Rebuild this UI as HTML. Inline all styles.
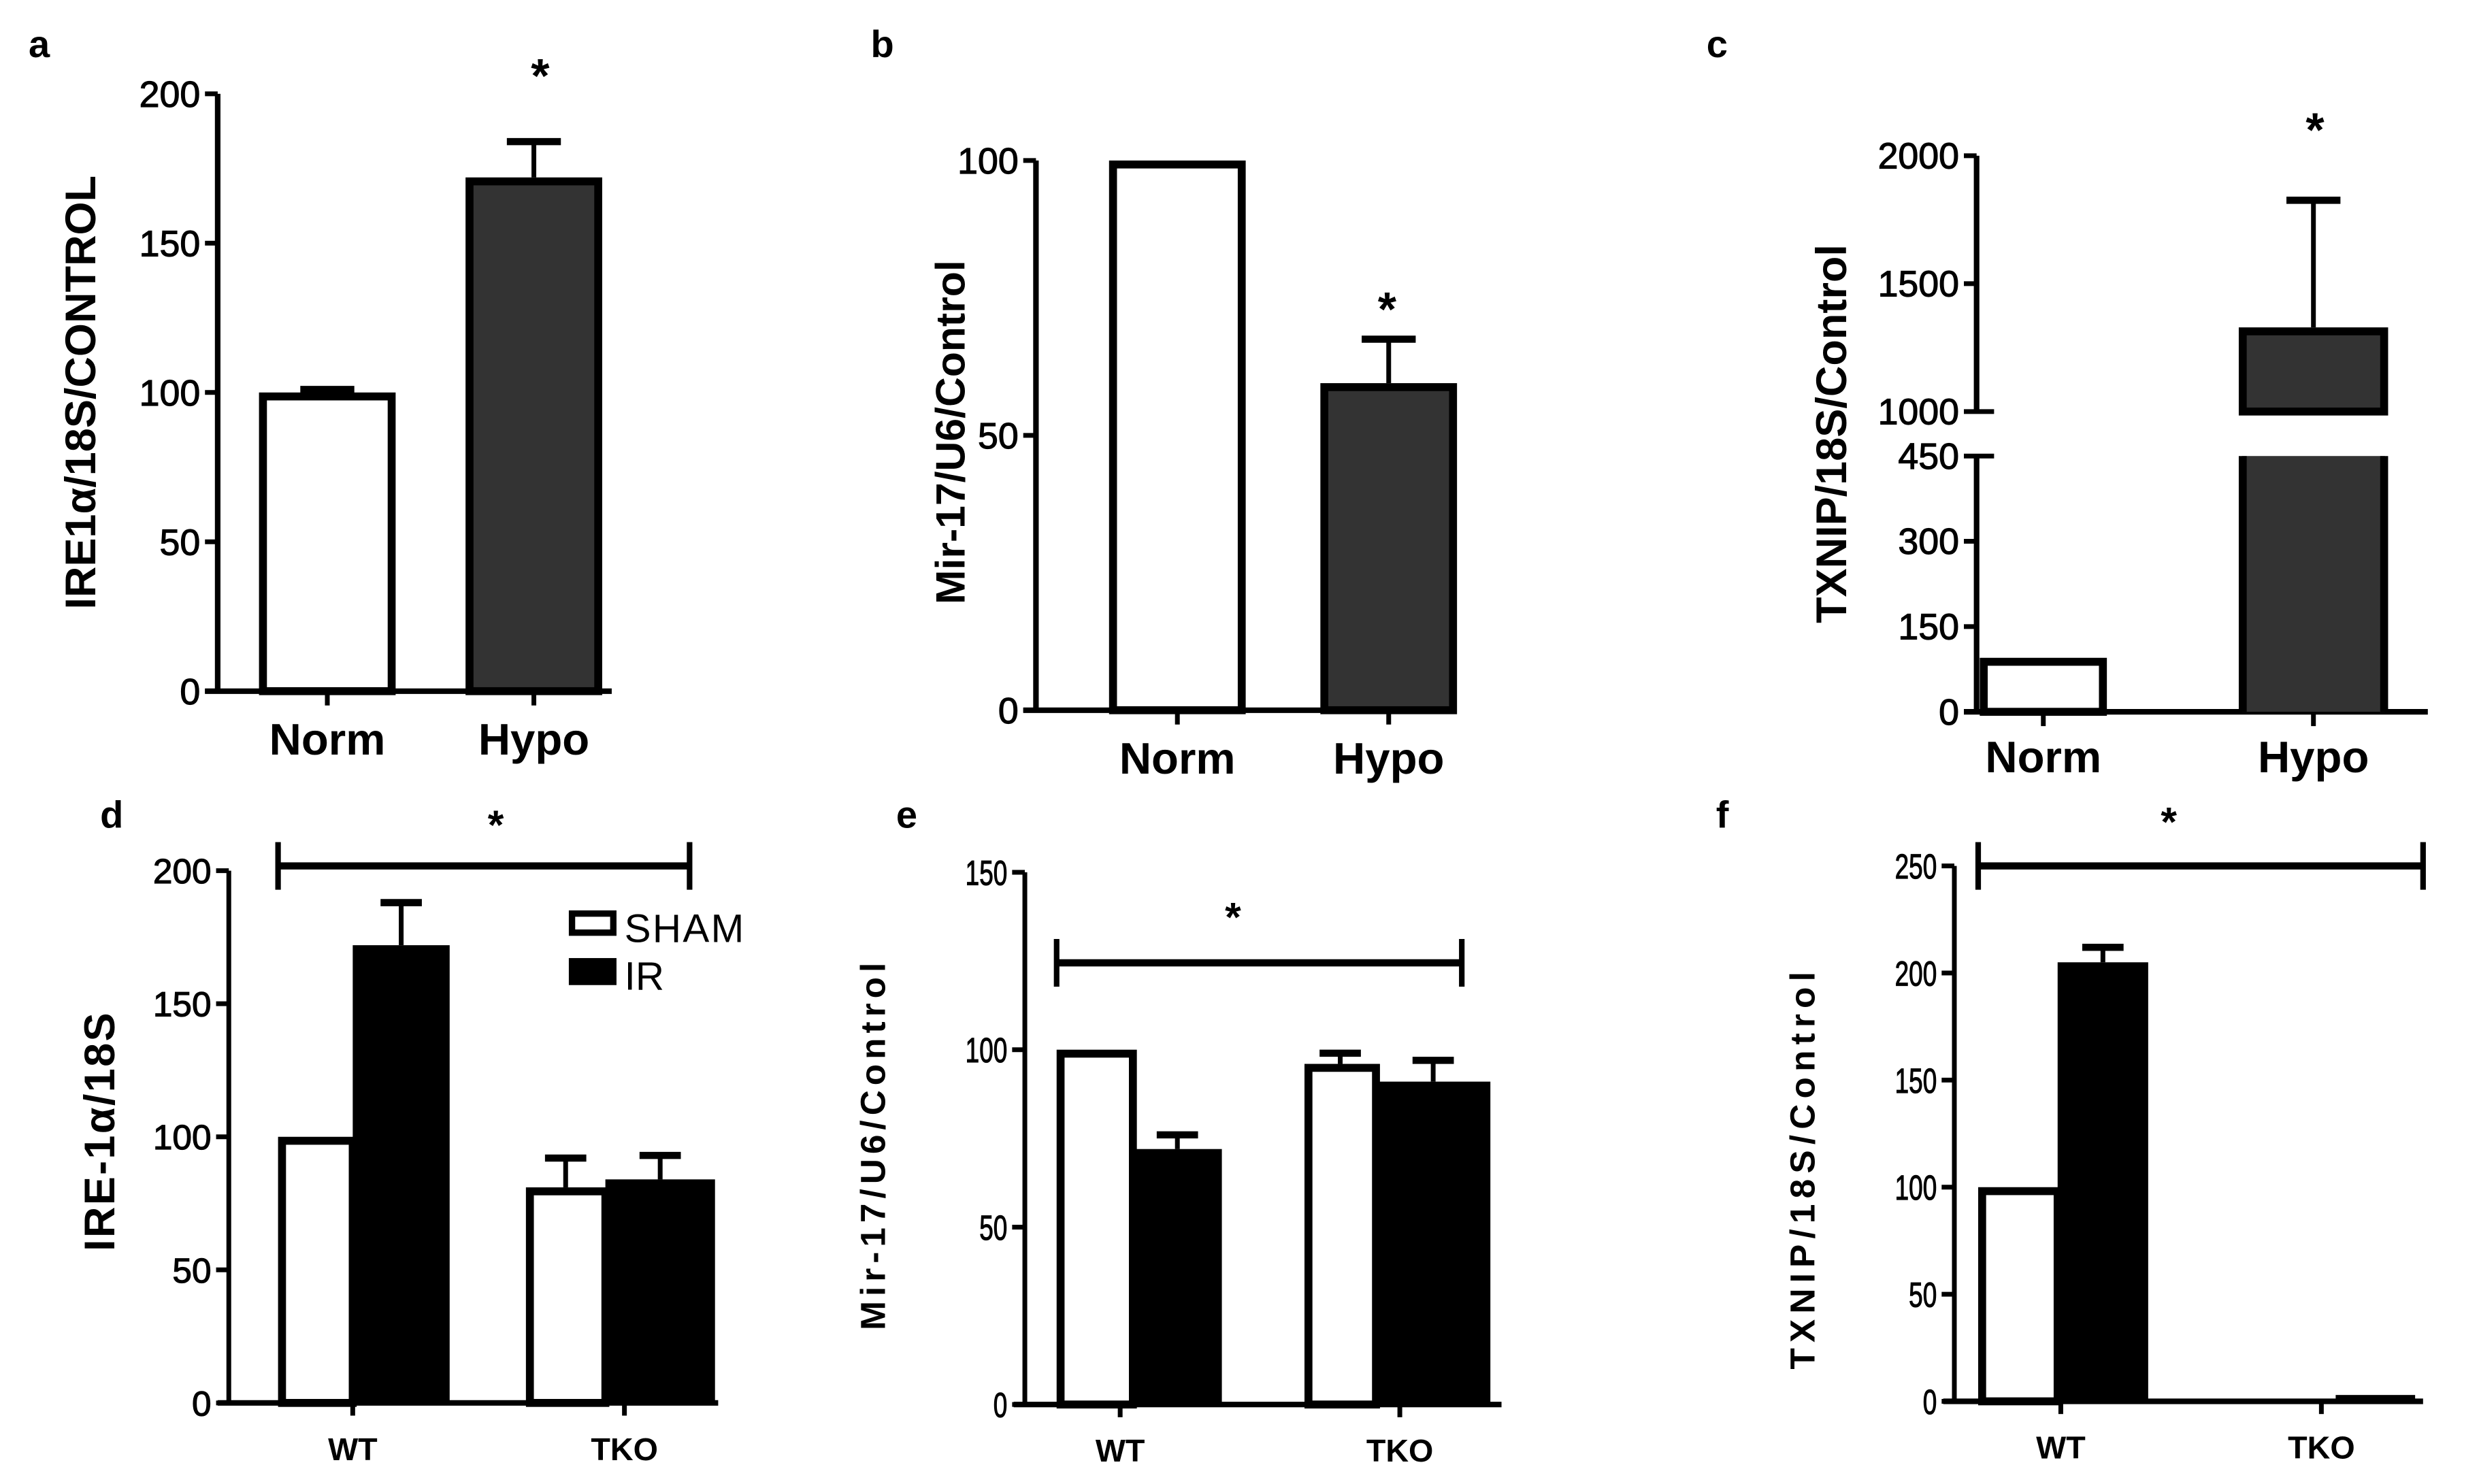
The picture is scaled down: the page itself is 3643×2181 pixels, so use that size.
<!DOCTYPE html>
<html><head><meta charset="utf-8"><style>
html,body{margin:0;padding:0;background:#fff;}
svg{display:block;font-family:"Liberation Sans",Arial,sans-serif;}
</style></head><body>
<svg id="fig" width="3643" height="2181" viewBox="0 0 1560.2 934" xmlns="http://www.w3.org/2000/svg"></svg>
<script>
// ---- data ----
const aCats = ["Norm","Hypo"];
const aVals = [100, 172];
const aErr  = [101, 184];
const aTicks = [0,50,100,150,200];

const bCats = ["Norm","Hypo"];
const bVals = [100, 59.5];
const bErr  = [100, 67.5];
const bTicks = [0,50,100];

const cCats = ["Norm","Hypo"];
const cVals = [95, 1329];
const cErr  = [95, 1826];
const cTicks = [0,150,300,450,1000,1500,2000];

const groups = ["WT","TKO"];
const dSham = [100, 81];  const dShamErr = [100, 92];
const dIR   = [172, 84];  const dIRErr   = [188, 93];
const dTicks = [0,50,100,150,200];

const eSham = [100, 96];  const eShamErr = [100, 99];
const eIR   = [72, 91];   const eIRErr   = [76, 97];
const eTicks = [0,50,100,150];

const fSham = [100, 0];   const fShamErr = [100, 0];
const fIR   = [205, 1];   const fIRErr   = [212, 1];
const fTicks = [0,50,100,150,200,250];

const NS="http://www.w3.org/2000/svg";
const svg=document.getElementById('fig');
function el(tag,attrs,parent){const e=document.createElementNS(NS,tag);for(const k in attrs)e.setAttribute(k,attrs[k]);(parent||svg).appendChild(e);return e;}
function txt(s,attrs,parent){const t=el('text',attrs,parent);t.textContent=s;return t;}
function lin(v0,v1,p0,p1){return v=>p0+(v-v0)*(p1-p0)/(v1-v0);}

function axisY(g,x,y,ticks,fs,cond){
  ticks.forEach(t=>{
    const yy=y(t);
    const tk=el('line',{x1:x-8,x2:x,y1:yy,y2:yy,stroke:'#000','stroke-width':3},g);
    
    
    const lb=txt(String(t),{x:x-11,y:yy+fs*0.36,'font-size':fs,'text-anchor':'end',stroke:'#000','stroke-width':0.5},g);
    if(cond){lb.setAttribute('transform',`translate(${x-11},0) scale(0.72,1) translate(${-(x-11)},0)`);}
    
    
  });
}
function ytitle(g,s,x,cy,fs,ls){
  const t=txt(s,{x:x,y:cy,'font-size':fs,'font-weight':'bold','text-anchor':'middle',transform:`rotate(-90 ${x} ${cy})`,'letter-spacing':ls||0},g);
  
  
}
function letter(s,x,y){const t=txt(s,{x:x,y:y,'font-size':24,'font-weight':'bold'});
  
  }
function star(x,y,fs){const t=txt('*',{x:x,y:y,'font-size':fs||30,'font-weight':'bold','text-anchor':'middle'});
  
  }
function errbar(g,xc,ytop,yerr,hw,sw){
  if(yerr>=ytop-0.5)return;
  const l=el('line',{x1:xc,x2:xc,y1:ytop,y2:yerr,stroke:'#000','stroke-width':sw},g);
  
  
  const c=el('line',{x1:xc-hw,x2:xc+hw,y1:yerr,y2:yerr,stroke:'#000','stroke-width':sw+1.5},g);
  
  
}

// ---- top panels (a, b) ----
function topPanel(name,cats,vals,errs,ticks,cfg){
  const g=el('g',{});
  
  
  const y=lin(0,ticks[ticks.length-1],cfg.y0,cfg.yTop);
  const ax=el('line',{x1:cfg.ax,x2:cfg.ax,y1:cfg.yTop,y2:cfg.y0+1.5,stroke:'#000','stroke-width':3.5},g);
  
  
  const xa=el('line',{x1:cfg.ax-8,x2:cfg.xEnd,y1:cfg.y0,y2:cfg.y0,stroke:'#000','stroke-width':3.5},g);
  
  
  axisY(g,cfg.ax,y,ticks,23,false);
  cats.forEach((c,i)=>{
    const x0=cfg.bx[i],w=cfg.bw,yt=y(vals[i]);
    errbar(g,x0+w/2,yt,y(errs[i]),17,3);
    const r=el('rect',{x:x0+2.5,y:yt+2.5,width:w-5,height:cfg.y0-yt-2.5,fill:i?'#333':'#fff',stroke:'#000','stroke-width':5},g);
    
    
    el('line',{x1:x0+w/2,x2:x0+w/2,y1:cfg.y0,y2:cfg.y0+9,stroke:'#000','stroke-width':3},g);
    const t=txt(c,{x:x0+w/2,y:cfg.y0+40,'font-size':28,'font-weight':'bold','text-anchor':'middle'},g);
    
    
  });
  ytitle(g,cfg.title,cfg.tx,cfg.ty,cfg.tfs);
}
topPanel('a',aCats,aVals,aErr,aTicks,{ax:137,y0:435,yTop:59,xEnd:385,bx:[163,293],bw:86,title:'IRE1\u03B1/18S/CONTROL',tx:60,ty:247,tfs:27});
letter('a',18,36);star(340,58,30);
topPanel('b',bCats,bVals,bErr,bTicks,{ax:652,y0:447,yTop:101,xEnd:915,bx:[698,831],bw:86,title:'Mir-17/U6/Control',tx:607,ty:272,tfs:26});
letter('b',548,36);star(873,205,30);

// ---- panel c (broken axis) ----
(function(){
  const g=el('g',{});
  
  
  const ax=1244,y0=448;
  const yLow=lin(0,450,y0,287), yHigh=lin(1000,2000,259,98);
  const y=v=>v<=450?yLow(v):yHigh(v);
  const a1=el('line',{x1:ax,x2:ax,y1:287,y2:y0+1.5,stroke:'#000','stroke-width':3.5},g);
  
  
  const a2=el('line',{x1:ax,x2:ax,y1:98,y2:259,stroke:'#000','stroke-width':3.5},g);
  
  
  const xa=el('line',{x1:ax-8,x2:1528,y1:y0,y2:y0,stroke:'#000','stroke-width':3.5},g);
  
  
  cTicks.forEach(t=>{
    const yy=y(t);
    el('line',{x1:ax-8,x2:ax+(t===1000||t===450?11:0),y1:yy,y2:yy,stroke:'#000','stroke-width':3},g);
    const lb=txt(String(t),{x:ax-11,y:yy+8,'font-size':23,'text-anchor':'end',stroke:'#000','stroke-width':0.5},g);
    
    
  });
  const bx=[1246,1409],bw=[80,94];
  cCats.forEach((c,i)=>{
    const x0=bx[i],w=bw[i],v=cVals[i];
    errbar(g,x0+w/2,y(v),y(cErr[i]),17,3);
    if(v<=450){
      const r=el('rect',{x:x0+2.5,y:y(v)+2.5,width:w-5,height:y0-y(v)-2.5,fill:'#fff',stroke:'#000','stroke-width':5},g);
      
      
    } else {
      const r1=el('rect',{x:x0+2.5,y:y(v)+2.5,width:w-5,height:259-y(v)-2.5,fill:'#333',stroke:'#000','stroke-width':5},g);
      
      
      const r2=el('rect',{x:x0+2,y:287,width:w-4,height:y0-287,fill:'#333',stroke:'none'},g);
      
      
      el('line',{x1:x0+2.5,x2:x0+2.5,y1:287,y2:y0,stroke:'#000','stroke-width':5},g);
      el('line',{x1:x0+w-2.5,x2:x0+w-2.5,y1:287,y2:y0,stroke:'#000','stroke-width':5},g);
    }
    el('line',{x1:x0+w/2,x2:x0+w/2,y1:y0,y2:y0+9,stroke:'#000','stroke-width':3},g);
    const t=txt(c,{x:x0+w/2,y:y0+38,'font-size':28,'font-weight':'bold','text-anchor':'middle'},g);
    
    
  });
  ytitle(g,'TXNIP/18S/Control',1162,273,27);
})();
letter('c',1074,36);star(1457,92,30);

// ---- bottom grouped panels ----
function groupPanel(name,sham,shamE,ir,irE,ticks,cfg){
  const g=el('g',{});
  
  
  const y=lin(0,ticks[ticks.length-1],cfg.y0,cfg.yTop);
  const ax=el('line',{x1:cfg.ax,x2:cfg.ax,y1:cfg.yTop,y2:cfg.y0+1.5,stroke:'#000','stroke-width':3},g);
  
  
  const xa=el('line',{x1:cfg.ax-7,x2:cfg.xEnd,y1:cfg.y0,y2:cfg.y0,stroke:'#000','stroke-width':3.5},g);
  
  
  axisY(g,cfg.ax,y,ticks,cfg.tfs,cfg.cond);
  groups.forEach((gr,i)=>{
    const sx=cfg.sx[i],sw=cfg.sw[i],ix=sx+sw,iw=cfg.iw[i];
    errbar(g,sx+sw/2,y(sham[i]),y(shamE[i]),13,3);
    errbar(g,ix+iw/2,y(ir[i]),y(irE[i]),13,3);
    if(sham[i]>0){
      const r=el('rect',{x:sx+2.5,y:y(sham[i])+2.5,width:sw-2.5,height:cfg.y0-y(sham[i])-2.5,fill:'#fff',stroke:'#000','stroke-width':5},g);
      
      
    }
    const h=Math.max(cfg.y0-y(ir[i]),ir[i]>0?4:0);
    const r2=el('rect',{x:ix,y:cfg.y0-h,width:iw,height:h,fill:'#000'},g);
    
    
    el('line',{x1:cfg.tx[i],x2:cfg.tx[i],y1:cfg.y0,y2:cfg.y0+8,stroke:'#000','stroke-width':3},g);
    const t=txt(gr,{x:cfg.tx[i],y:cfg.y0+36,'font-size':20,'font-weight':'bold','text-anchor':'middle'},g);
    
    
  });
  const sb=cfg.sig;
  const br=el('line',{x1:sb[0],x2:sb[1],y1:sb[2],y2:sb[2],stroke:'#000','stroke-width':4.5},g);
  
  
  el('line',{x1:sb[0],x2:sb[0],y1:sb[2]-15,y2:sb[2]+15,stroke:'#000','stroke-width':3.5},g);
  el('line',{x1:sb[1],x2:sb[1],y1:sb[2]-15,y2:sb[2]+15,stroke:'#000','stroke-width':3.5},g);
  ytitle(g,cfg.title,cfg.ttx,cfg.tty,cfg.tts,cfg.ls);
}
groupPanel('d',dSham,dShamErr,dIR,dIRErr,dTicks,{ax:144,y0:883,yTop:548,xEnd:452,sx:[175,331],sw:[47,50],iw:[61,69],tx:[222,393],sig:[175,434,545],title:'IRE-1\u03B1/18S',ttx:72,tty:712,tts:27,ls:1,tfs:22});
letter('d',63,521);star(312,528,26);
(function(){
  const g=el('g',{});
  
  
  const b1=el('rect',{x:360,y:575,width:26,height:12,fill:'#fff',stroke:'#000','stroke-width':4},g);
  
  
  const t1=txt('SHAM',{x:393,y:593,'font-size':25,'letter-spacing':1},g);
  
  
  const b2=el('rect',{x:358,y:603,width:30,height:17,fill:'#000'},g);
  
  
  const t2=txt('IR',{x:393,y:623,'font-size':25},g);
  
  
})();
groupPanel('e',eSham,eShamErr,eIR,eIRErr,eTicks,{ax:645,y0:884,yTop:549,xEnd:945,sx:[665,821],sw:[48,45],iw:[56,72],tx:[705,881],sig:[665,920,606],title:'Mir-17/U6/Control',ttx:557,tty:720,tts:22,ls:3,cond:true,tfs:22});
letter('e',564,521);star(776,586,26);
groupPanel('f',fSham,fShamErr,fIR,fIRErr,fTicks,{ax:1230,y0:882,yTop:545,xEnd:1525,sx:[1245,1430],sw:[50,40],iw:[57,50],tx:[1297,1461],sig:[1245,1525,545],title:'TXNIP/18S/Control',ttx:1142,tty:735,tts:22,ls:3.5,cond:true,tfs:22});
letter('f',1080,521);star(1365,526,26);
</script>
</body></html>
